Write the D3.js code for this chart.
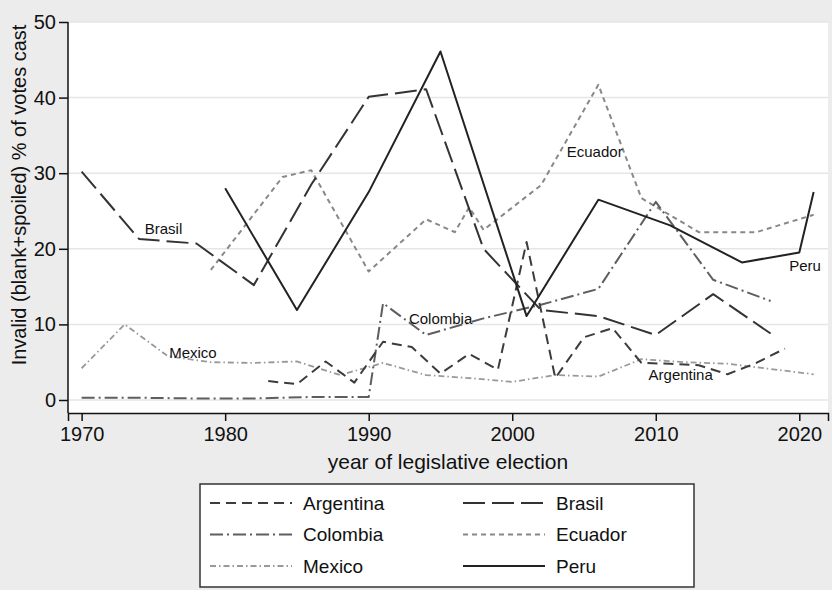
<!DOCTYPE html>
<html>
<head>
<meta charset="utf-8">
<script src="https://cdn.jsdelivr.net/npm/d3@7"></script>
<style>
  body { margin: 0; background: #ececec; }
  text { font-family: "Liberation Sans", Arial, sans-serif; fill: #111; }
</style>
</head>
<body>
<div id="chart"></div>
<script>
// Data
var argYears = [1983, 1985, 1987, 1989, 1991, 1993, 1995, 1997, 1999, 2001, 2003, 2005, 2007, 2009, 2011, 2013, 2015, 2017, 2019];
var argVals = [2.5, 2.1, 5.1, 2.3, 7.7, 7.0, 3.5, 6.1, 4.0, 20.9, 2.9, 8.3, 9.5, 4.9, 4.8, 4.6, 3.4, 4.9, 6.8];

var braYears = [1970, 1974, 1978, 1982, 1986, 1990, 1994, 1998, 2002, 2006, 2010, 2014, 2018];
var braVals = [30.2, 21.3, 20.7, 15.2, 28.5, 40.1, 41.1, 20.0, 11.9, 11.1, 8.6, 14.0, 8.8];

var colYears = [1970, 1974, 1978, 1982, 1986, 1990, 1991, 1994, 1998, 2002, 2006, 2010, 2014, 2018];
var colVals = [0.3, 0.3, 0.2, 0.2, 0.4, 0.4, 12.8, 8.6, 10.8, 12.6, 14.7, 26.2, 15.9, 13.1];

var ecuYears = [1979, 1984, 1986, 1990, 1994, 1996, 1997, 1998, 2002, 2006, 2009, 2013, 2017, 2021];
var ecuVals = [17.2, 29.5, 30.4, 17.0, 23.9, 22.2, 25.5, 22.5, 28.4, 41.7, 26.7, 22.2, 22.2, 24.5];

var mexYears = [1970, 1973, 1976, 1979, 1982, 1985, 1988, 1991, 1994, 1997, 2000, 2003, 2006, 2009, 2012, 2015, 2018, 2021];
var mexVals = [4.2, 10.0, 5.8, 5.0, 4.9, 5.1, 3.3, 4.9, 3.3, 2.9, 2.4, 3.3, 3.1, 5.4, 5.0, 4.8, 4.1, 3.4];

var perYears = [1980, 1985, 1990, 1995, 2001, 2006, 2011, 2016, 2020, 2021];
var perVals = [28.0, 11.9, 27.5, 46.1, 11.1, 26.5, 23.1, 18.2, 19.5, 27.5];

var countries = ["Argentina", "Brasil", "Colombia", "Ecuador", "Mexico", "Peru"];
var xTicks = [1970, 1980, 1990, 2000, 2010, 2020];
var yTicks = [0, 10, 20, 30, 40, 50];

// SVG window
var svgWidth = 832;
var svgHeight = 590;

var margin = { top: 22, right: 4, bottom: 177, left: 68 };
var width = svgWidth - margin.left - margin.right;
var height = svgHeight - margin.top - margin.bottom;

var svg = d3.select("#chart")
  .append("svg")
  .attr("width", svgWidth)
  .attr("height", svgHeight);

svg.append("rect")
  .attr("width", svgWidth)
  .attr("height", svgHeight)
  .attr("fill", "#ececec");

var chartGroup = svg.append("g")
  .attr("transform", `translate(${margin.left}, ${margin.top})`);

// plot region
chartGroup.append("rect")
  .attr("width", width)
  .attr("height", height)
  .attr("fill", "#fff");

// scales
var xScale = d3.scaleLinear().domain([1969.05, 2022.0]).range([0, width]);
var yScale = d3.scaleLinear().domain([0, 50]).range([378, 0]);

// gridlines
chartGroup.selectAll(".grid")
  .data(yTicks)
  .enter()
  .append("line")
  .attr("x1", 0)
  .attr("x2", width)
  .attr("y1", d => yScale(d))
  .attr("y2", d => yScale(d))
  .attr("stroke", "#e6e6e6")
  .attr("stroke-width", 1.5);

// styles per country
var styles = {
  Argentina: { color: "#3c3c3c", dash: "10,6", w: 2 },
  Brasil: { color: "#333", dash: "22,7", w: 2 },
  Colombia: { color: "#5e5e5e", dash: "13,4,2,4", w: 2 },
  Ecuador: { color: "#888", dash: "5,4", w: 2 },
  Mexico: { color: "#999", dash: "6,3,1.5,3", w: 1.8 },
  Peru: { color: "#222", dash: null, w: 2 }
};

var series = [
  { name: "Argentina", years: argYears, vals: argVals },
  { name: "Brasil", years: braYears, vals: braVals },
  { name: "Colombia", years: colYears, vals: colVals },
  { name: "Ecuador", years: ecuYears, vals: ecuVals },
  { name: "Mexico", years: mexYears, vals: mexVals },
  { name: "Peru", years: perYears, vals: perVals }
];

var line = d3.line()
  .x(d => xScale(d[0]))
  .y(d => yScale(d[1]));

// draw lighter ones first
var drawOrder = ["Mexico", "Ecuador", "Colombia", "Argentina", "Brasil", "Peru"];
drawOrder.forEach(function(name) {
  var s = series.find(d => d.name === name);
  var pts = s.years.map((y, i) => [y, s.vals[i]]);
  var st = styles[name];
  chartGroup.append("path")
    .attr("d", line(pts))
    .attr("fill", "none")
    .attr("stroke", st.color)
    .attr("stroke-width", st.w)
    .attr("stroke-dasharray", st.dash)
    .attr("stroke-linejoin", "round");
});

// axes
var bottomAxis = d3.axisBottom(xScale).tickValues(xTicks).tickSize(8).tickFormat(d3.format("d"));
var leftAxis = d3.axisLeft(yScale).tickValues(yTicks).tickSize(9);

var xAxis = chartGroup.append("g")
  .attr("transform", `translate(0, ${height})`)
  .call(bottomAxis);

var yAxis = chartGroup.append("g")
  .call(leftAxis);

yAxis.select(".domain").attr("d", `M0,0V${height}`);

[xAxis, yAxis].forEach(function(ax) {
  ax.select(".domain").attr("stroke", "#111").attr("stroke-width", 1.5);
  ax.selectAll(".tick line").attr("stroke", "#111").attr("stroke-width", 1.5);
  ax.selectAll(".tick text").attr("font-size", "20px").attr("fill", "#111")
    .style("font-family", "Liberation Sans, Arial, sans-serif");
});
xAxis.selectAll(".tick text").attr("dy", "0.85em");
yAxis.selectAll(".tick text").attr("x", -12);

// axis titles
chartGroup.append("text")
  .attr("x", width / 2)
  .attr("y", height + 56)
  .attr("text-anchor", "middle")
  .attr("font-size", "21px")
  .text("year of legislative election");

chartGroup.append("text")
  .attr("transform", "rotate(-90)")
  .attr("x", -173)
  .attr("y", -42)
  .attr("text-anchor", "middle")
  .attr("font-size", "20px")
  .text("Invalid (blank+spoiled) % of votes cast");

// in-plot labels
var labelSpots = [
  ["Brasil", 1974.4, 22.6],
  ["Ecuador", 2003.8, 32.8],
  ["Colombia", 1992.8, 10.8],
  ["Mexico", 1976.1, 6.3],
  ["Argentina", 2009.5, 3.4],
  ["Peru", 2019.3, 17.7]
];
chartGroup.selectAll(".lbl")
  .data(labelSpots)
  .enter()
  .append("text")
  .attr("x", d => xScale(d[1]))
  .attr("y", d => yScale(d[2]))
  .attr("dy", "0.35em")
  .attr("font-size", "15px")
  .text(d => d[0]);

// legend
var legend = svg.append("g").attr("transform", "translate(200, 484)");
legend.append("rect")
  .attr("width", 494)
  .attr("height", 103)
  .attr("fill", "#fff")
  .attr("stroke", "#333")
  .attr("stroke-width", 1.5);

countries.forEach(function(name, i) {
  var col = i % 2;
  var row = Math.floor(i / 2);
  var st = styles[name];
  var gx = col === 0 ? 10 : 263;
  var gy = 19 + row * 31.5;
  legend.append("line")
    .attr("x1", gx)
    .attr("x2", gx + 82)
    .attr("y1", gy)
    .attr("y2", gy)
    .attr("stroke", st.color)
    .attr("stroke-width", st.w)
    .attr("stroke-dasharray", st.dash);
  legend.append("text")
    .attr("x", gx + 93)
    .attr("y", gy)
    .attr("dy", "0.35em")
    .attr("font-size", "19px")
    .text(name);
});
</script>
</body>
</html>
